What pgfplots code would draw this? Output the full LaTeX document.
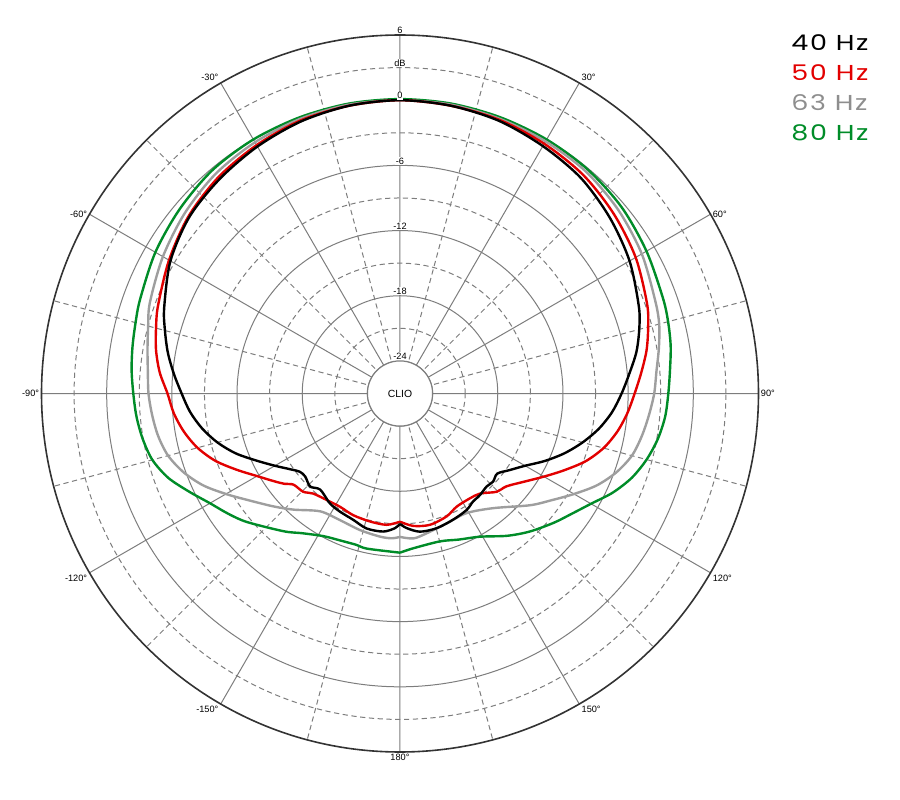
\documentclass[border=0pt]{standalone}
\usepackage{pgfplots}
\pgfplotsset{compat=1.18}
\usepackage{pgfplotstable}
\usepgfplotslibrary{polar}
\usetikzlibrary{calc}
\usepackage{fontspec}
\setmainfont{Liberation Sans}
\newfontfamily\legfont[LetterSpace=6]{Poppins}

\definecolor{cRed}{RGB}{226,0,0}
\definecolor{cGray}{RGB}{158,158,158}
\definecolor{cGreen}{RGB}{0,140,40}
\definecolor{gridc}{RGB}{125,125,125}

% angle (deg, clockwise from front) and level (dB)
\pgfplotstableread{
a db
-180 -15.0
-177.9 -14.6
-173.1 -14.2
-166.1 -14.2
-159.7 -14.6
-153.1 -14.8
-147.5 -15.0
-140.3 -15.5
-136 -15.1
-131.2 -15.4
-128 -15.3
-125 -14.8
-120 -13.7
-115 -12.4
-110 -10.9
-105 -9.6
-100 -8.5
-95 -7.6
-90 -6.9
-85 -6.1
-80 -5.3
-75 -4.6
-70 -3.9
-60 -2.6
-50 -1.7
-40 -1.2
-30 -0.75
-20 -0.35
-10 -0.1
0 0
10 -0.1
20 -0.3
30 -0.7
40 -1.1
50 -1.8
60 -2.6
70 -3.6
75 -4.2
80 -4.9
85 -5.8
90 -6.6
95 -7.4
100 -8.4
105 -9.6
110 -10.9
115 -12.3
120 -13.7
125 -14.7
129.5 -15.4
133.4 -15.2
137 -15.3
141.8 -15.1
145.9 -15.0
150.2 -14.65
157.1 -14.4
164.8 -14.15
171.8 -14.15
177.2 -14.6
180 -15.0
}\hzforty

\pgfplotstableread{
a db
-180 -15.2
-174.2 -14.85
-166.8 -14.9
-159 -15.0
-152.1 -15.2
-145.5 -15.1
-139 -14.8
-135.4 -14.3
-130.6 -14.1
-128 -13.5
-125 -12.9
-120 -11.8
-115 -10.4
-110 -8.9
-105 -7.7
-100 -6.8
-95 -6.1
-90 -5.6
-85 -4.8
-80 -4.2
-75 -3.75
-70 -3.3
-60 -2.45
-50 -1.6
-40 -1.0
-30 -0.6
-20 -0.25
-10 -0.1
0 0
10 -0.1
20 -0.2
30 -0.45
40 -0.75
50 -1.3
60 -1.95
70 -2.8
75 -3.35
80 -3.95
85 -4.7
90 -5.4
95 -6.0
100 -6.7
105 -7.6
110 -8.8
115 -10.3
120 -11.7
125 -12.9
131.1 -14.0
135.4 -14.3
141.3 -15.2
146.3 -15.4
153.4 -15.35
159.2 -14.9
167.1 -14.6
174.3 -14.75
180 -15.2
}\hzfifty

\pgfplotstableread{
a db
-180 -13.8
-176.7 -13.65
-172 -13.7
-163.7 -13.9
-154.6 -14.1
-145.9 -13.9
-137.5 -12.5
-131.8 -11.4
-125 -9.9
-120 -8.5
-115 -7.0
-110 -5.8
-105 -4.9
-100 -4.4
-95 -4.1
-90 -3.85
-85 -3.7
-80 -3.4
-75 -3.0
-70 -2.5
-60 -1.8
-50 -1.15
-40 -0.6
-30 -0.3
-20 -0.1
-10 0
0 0
10 0
20 -0.1
30 -0.2
40 -0.35
50 -0.75
60 -1.3
70 -2.0
75 -2.3
80 -2.8
85 -3.3
90 -3.6
95 -4.0
100 -4.4
105 -4.9
110 -5.8
115 -7.0
120 -8.5
125 -9.9
130.6 -11.2
140.9 -13.4
150.9 -14.4
160.2 -14.3
169.2 -13.9
174.7 -13.6
180 -13.8
}\hzsixtythree

\pgfplotstableread{
a db
-180 -12.35
-168 -12.4
-164 -12.5
-158 -12.4
-151.8 -12.1
-145 -11.3
-139.8 -10.4
-130 -8.6
-125 -7.7
-120 -6.8
-115 -5.6
-110 -4.3
-105 -3.4
-100 -2.95
-95 -2.65
-90 -2.45
-85 -2.2
-80 -2.0
-75 -1.8
-70 -1.55
-60 -1.0
-50 -0.55
-40 -0.15
-30 0
-20 0.05
-10 0.1
0 0.1
10 0.1
20 0.05
30 0
40 -0.1
50 -0.35
60 -0.8
70 -1.25
75 -1.45
80 -1.7
85 -2.05
90 -2.3
95 -2.5
100 -2.9
105 -3.5
110 -4.3
115 -5.4
120 -6.7
125 -7.7
130 -8.5
136.7 -9.55
143 -10.6
150.8 -11.9
158 -12.5
164.9 -12.9
175.1 -12.7
180 -12.35
}\hzeighty

\begin{document}
\begin{tikzpicture}
\begin{polaraxis}[
    width=358.5pt, height=358.5pt, scale only axis,
    xmin=0, xmax=360, ymin=0, ymax=33,
    xtick={0,30,...,330}, minor xtick={15,45,...,345},
    ytick={3,9,15,21,27}, minor ytick={6,12,18,24,30},
    xticklabel=\empty, yticklabel=\empty,
    major tick length=0pt, minor tick length=0pt,
    grid=both,
    major grid style={draw=gridc, line width=0.5pt},
    minor grid style={draw=gridc, line width=0.5pt, dash pattern=on 2.6pt off 1.8pt},
    axis line style={draw=none},
    clip=false,
    every axis plot/.append style={smooth, line width=1.2pt},
]
\addplot[cGreen] table[x expr=90-\thisrow{a}, y expr=\thisrow{db}+27] {\hzeighty};
\addplot[cGray] table[x expr=90-\thisrow{a}, y expr=\thisrow{db}+27] {\hzsixtythree};
\addplot[cRed] table[x expr=90-\thisrow{a}, y expr=\thisrow{db}+27] {\hzfifty};
\addplot[black] table[x expr=90-\thisrow{a}, y expr=\thisrow{db}+27] {\hzforty};

\coordinate (O) at (axis cs:0,0);
\coordinate (T) at (axis cs:90,33);
\coordinate (C3) at (axis cs:90,3);

% radial level labels
\begin{scope}[every node/.style={font=\fontsize{4.6}{5}\selectfont, fill=white, inner sep=0.4pt, anchor=south}]
\node at (axis cs:90,33) {6};
\node at (axis cs:90,30) {dB};
\node at (axis cs:90,27) {0};
\node at (axis cs:90,21) {-6};
\node at (axis cs:90,15) {-12};
\node at (axis cs:90,9) {-18};
\node at (axis cs:90,3) {-24};
\end{scope}

% angle labels
\begin{scope}[every node/.style={font=\fontsize{4.6}{5}\selectfont, inner sep=1pt}]
\node[anchor=south west] at (axis cs:60,33) {30°};
\node[anchor=west] at (axis cs:30,33) {60°};
\node[anchor=west] at (axis cs:0,33) {90°};
\node[anchor=north west] at (axis cs:-30,33) {120°};
\node[anchor=north west] at (axis cs:-60,33) {150°};
\node[anchor=north] at (axis cs:-90,33) {180°};
\node[anchor=south east] at (axis cs:120,33) {-30°};
\node[anchor=east] at (axis cs:150,33) {-60°};
\node[anchor=east] at (axis cs:180,33) {-90°};
\node[anchor=north east] at (axis cs:210,33) {-120°};
\node[anchor=north east] at (axis cs:240,33) {-150°};
\end{scope}
\end{polaraxis}

\draw[gridc, line width=0.6pt, fill=white] let \p1=($(C3)-(O)$) in (O) circle[radius=\y1];
\node[font=\fontsize{5.2}{6}\selectfont] at (O) {CLIO};
\draw[black!80, line width=0.8pt] let \p1=($(T)-(O)$) in (O) circle[radius=\y1];

% legend
\begin{scope}[every node/.style={font=\legfont\fontsize{10.8}{12}\selectfont, anchor=west, inner sep=0pt}]
\node[text=black] at ([shift={(195.5pt,175.25pt)}]O) {\scalebox{1.25}[1]{40 Hz}};
\node[text=cRed] at ([shift={(195.5pt,160.25pt)}]O) {\scalebox{1.25}[1]{50 Hz}};
\node[text=cGray!90!black] at ([shift={(195.5pt,145.25pt)}]O) {\scalebox{1.25}[1]{63 Hz}};
\node[text=cGreen] at ([shift={(195.5pt,130.25pt)}]O) {\scalebox{1.25}[1]{80 Hz}};
\end{scope}

\pgfresetboundingbox
\path ([shift={(-200pt,-202.75pt)}]O) rectangle ([shift={(250pt,196.75pt)}]O);
\end{tikzpicture}
\end{document}
